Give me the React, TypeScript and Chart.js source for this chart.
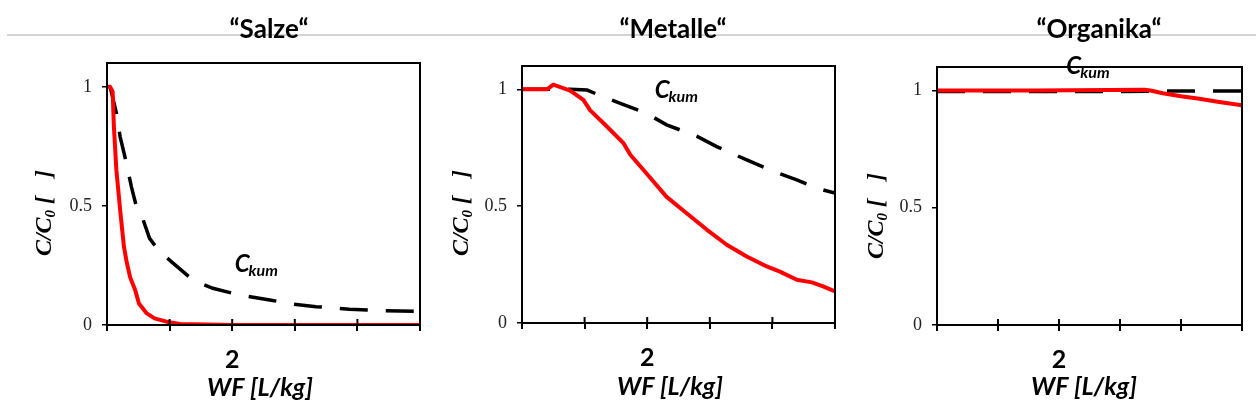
import React, { useEffect, useRef } from "react";
import { Chart, registerables } from "chart.js";

Chart.register(...registerables);

// ---------- data ----------
const xTicks = [0, 1, 2, 3, 4, 5];
const xTickLabels = ["", "", "2", "", "", ""];
const yTicks = [0, 0.5, 1];
const yTickLabels = ["0", "0.5", "1"];
const panelTitles = ["\u201CSalze\u201C", "\u201CMetalle\u201C", "\u201COrganika\u201C"];
const xAxisTitle = "WF [L/kg]";
const kumLabel = "kum";

// Salze
const salzeX = [0, 0.05, 0.09, 0.11, 0.15, 0.21, 0.27, 0.31, 0.37, 0.45, 0.51, 0.63, 0.76, 0.95, 1.16, 2, 3, 4, 5];
const salzeC = [1.0, 1.0, 0.98, 0.833, 0.65, 0.483, 0.33, 0.27, 0.2, 0.147, 0.09, 0.05, 0.028, 0.014, 0.004, 0, 0, 0, 0];
const salzeKumX = [0.05, 0.1, 0.15, 0.21, 0.31, 0.39, 0.47, 0.55, 0.68, 0.84, 1.06, 1.37, 1.69, 2.12, 2.6, 2.97, 3.34, 3.87, 4.46, 5.0];
const salzeKum = [1.0, 0.945, 0.89, 0.79, 0.68, 0.58, 0.497, 0.462, 0.364, 0.308, 0.259, 0.189, 0.154, 0.126, 0.105, 0.088, 0.077, 0.066, 0.06, 0.057];

// Metalle
const metalleX = [0, 0.4, 0.5, 0.77, 0.98, 1.09, 1.36, 1.62, 1.73, 1.99, 2.31, 2.63, 2.95, 3.27, 3.59, 3.91, 4.12, 4.39, 4.63, 4.81, 5.0];
const metalleC = [1.0, 1.0, 1.02, 0.995, 0.955, 0.91, 0.84, 0.77, 0.72, 0.64, 0.54, 0.47, 0.4, 0.335, 0.285, 0.242, 0.22, 0.185, 0.174, 0.157, 0.135];
const metalleKumX = [0, 0.77, 1.04, 1.28, 1.57, 1.99, 2.31, 2.79, 3.11, 3.59, 3.96, 4.39, 4.71, 5.0];
const metalleKum = [1.0, 1.0, 0.997, 0.97, 0.94, 0.897, 0.848, 0.8, 0.755, 0.698, 0.655, 0.613, 0.577, 0.556];

// Organika
const organikaX = [0, 1.6, 3.4, 3.5, 3.7, 4.0, 4.3, 4.6, 5.0];
const organikaC = [1.0, 1.0, 1.003, 1.0, 0.988, 0.975, 0.965, 0.952, 0.937];
const organikaKumX = [0, 1, 2, 3, 4, 5];
const organikaKum = [0.996, 0.996, 0.996, 0.996, 0.998, 0.998];

const panelSeries = [
  { x: salzeX, c: salzeC, kx: salzeKumX, k: salzeKum },
  { x: metalleX, c: metalleC, kx: metalleKumX, k: metalleKum },
  { x: organikaX, c: organikaC, kx: organikaKumX, k: organikaKum },
];

// ---------- layout (page pixels) ----------
const W = 1256;
const H = 419;
const areas = [
  { left: 107, right: 420, top: 63, bottom: 325 },
  { left: 522, right: 835, top: 66, bottom: 323 },
  { left: 937, right: 1250, top: 67, bottom: 325 },
];
const titlePos = [[269, 30], [673, 30], [1099, 30]];
const yTitlePos = [[45, 213], [462, 213], [877, 216]];
const xTitlePos = [[260, 388], [670, 387], [1084, 387]];
const kumPos = [[2.04, 0.223], [2.12, 0.963], [2.12, 1.072]];

const Y_AXIS_W = 40;
const X_AXIS_H = 60;
const SANS = "Lato";

function makeTextPlugin(i: number) {
  return {
    id: "panelText" + i,
    afterDatasetsDraw(chart: any) {
      const ctx = chart.ctx;
      const a = chart.chartArea;
      ctx.save();
      // frame
      ctx.strokeStyle = "#000";
      ctx.lineWidth = 2;
      ctx.strokeRect(a.left, a.top, a.right - a.left, a.bottom - a.top);
      // inner half of x ticks
      const xs = chart.scales.x;
      ctx.lineWidth = 2;
      ctx.beginPath();
      xTicks.forEach((v) => {
        const px = xs.getPixelForValue(v);
        ctx.moveTo(px, a.bottom);
        ctx.lineTo(px, a.bottom - 6);
      });
      ctx.stroke();

      // Ckum label
      const ys = chart.scales.y;
      const kx = xs.getPixelForValue(kumPos[i][0]);
      const ky = ys.getPixelForValue(kumPos[i][1]);
      ctx.fillStyle = "#000";
      ctx.textAlign = "left";
      ctx.textBaseline = "alphabetic";
      ctx.font = `italic bold 24px "${SANS}"`;
      ctx.fillText("C", kx, ky);
      const cw = ctx.measureText("C").width;
      ctx.font = `italic bold 16px "${SANS}"`;
      ctx.fillText(kumLabel, kx + cw - 1, ky + 4);
      ctx.restore();
    },
    afterDraw(chart: any) {
      const ctx = chart.ctx;
      ctx.save();
      // title
      ctx.fillStyle = "#000";
      ctx.textAlign = "center";
      ctx.textBaseline = "middle";
      ctx.font = `bold 26px "${SANS}"`;
      ctx.fillText(panelTitles[i], titlePos[i][0], titlePos[i][1]);
      // x axis title
      ctx.font = `italic bold 25px "${SANS}"`;
      ctx.fillText(xAxisTitle, xTitlePos[i][0], xTitlePos[i][1]);
      // y axis title: C/C0 [  ]
      ctx.translate(yTitlePos[i][0], yTitlePos[i][1]);
      ctx.rotate(-Math.PI / 2);
      ctx.textAlign = "left";
      ctx.textBaseline = "middle";
      const big = 'italic bold 24px "Liberation Serif"';
      const small = 'italic bold 15px "Liberation Serif"';
      ctx.font = big;
      const p1 = "C/C";
      const p3 = " [   ]";
      const w1 = ctx.measureText(p1).width;
      const w3 = ctx.measureText(p3).width;
      ctx.font = small;
      const w2 = ctx.measureText("0").width;
      const total = w1 + w2 + w3;
      let x = -total / 2;
      ctx.font = big;
      ctx.fillText(p1, x, 0);
      x += w1;
      ctx.font = small;
      ctx.fillText("0", x, 6);
      x += w2;
      ctx.font = big;
      ctx.fillText(p3, x, 0);
      ctx.restore();
    },
  };
}

function Panel({ index }: { index: number }) {
  const ref = useRef<HTMLCanvasElement | null>(null);
  useEffect(() => {
    if (!ref.current) return;
    const s = panelSeries[index];
    const a = areas[index];
    const chart = new Chart(ref.current, {
      type: "line",
      data: {
        datasets: [
          {
            label: "C",
            data: s.x.map((x, j) => ({ x, y: s.c[j] })),
            borderColor: "#ff0000",
            borderWidth: 4,
            pointRadius: 0,
            tension: 0,
            borderJoinStyle: "round",
            borderCapStyle: "butt",
          },
          {
            label: "Ckum",
            data: s.kx.map((x, j) => ({ x, y: s.k[j] })),
            borderColor: "#000000",
            borderWidth: 3.5,
            borderDash: [28, 18],
            pointRadius: 0,
            tension: 0,
            borderCapStyle: "butt",
          },
        ],
      },
      options: {
        responsive: false,
        animation: false,
        devicePixelRatio: 1,
        layout: {
          padding: {
            left: a.left - Y_AXIS_W,
            right: W - a.right,
            top: a.top,
            bottom: H - a.bottom - X_AXIS_H,
          },
        },
        plugins: {
          legend: { display: false },
          tooltip: { enabled: false },
          title: { display: false },
        },
        scales: {
          x: {
            type: "linear",
            min: 0,
            max: 5,
            afterBuildTicks: (scale: any) => {
              scale.ticks = xTicks.map((v) => ({ value: v }));
            },
            afterFit: (scale: any) => {
              scale.height = X_AXIS_H;
            },
            grid: {
              drawOnChartArea: false,
              drawTicks: true,
              tickLength: 6,
              color: "#000",
              lineWidth: 2,
            },
            border: { display: true, color: "#000", width: 2 },
            ticks: {
              autoSkip: false,
              maxRotation: 0,
              padding: 14,
              color: "#000",
              font: { family: SANS, weight: "bold", size: 25 },
              callback: (v: any) => {
                const k = xTicks.indexOf(Number(v));
                return k >= 0 ? xTickLabels[k] : "";
              },
            },
          },
          y: {
            type: "linear",
            min: 0,
            max: 1.1,
            afterBuildTicks: (scale: any) => {
              scale.ticks = yTicks.map((v) => ({ value: v }));
            },
            afterFit: (scale: any) => {
              scale.width = Y_AXIS_W;
            },
            grid: {
              drawOnChartArea: false,
              drawTicks: true,
              tickLength: 5,
              color: "#000",
              lineWidth: 1.5,
            },
            border: { display: true, color: "#000", width: 2 },
            ticks: {
              padding: 10,
              color: "#222",
              font: { family: "Liberation Serif", size: 18 },
              callback: (v: any) => {
                const k = yTicks.indexOf(Number(v));
                return k >= 0 ? yTickLabels[k] : "";
              },
            },
          },
        },
      },
      plugins: [makeTextPlugin(index)],
    } as any);
    return () => chart.destroy();
  }, [index]);
  return (
    <canvas
      ref={ref}
      width={W}
      height={H}
      style={{ position: "absolute", left: 0, top: 0, width: W, height: H }}
    />
  );
}

export default function App() {
  return (
    <div
      style={{
        position: "fixed",
        left: 0,
        top: 0,
        width: W,
        height: H,
        background: "#fff",
        overflow: "hidden",
      }}
    >
      <div
        style={{
          position: "absolute",
          left: 7,
          top: 34,
          width: W - 7,
          height: 2,
          background: "#d4d4d4",
        }}
      />
      <Panel index={0} />
      <Panel index={1} />
      <Panel index={2} />
    </div>
  );
}
